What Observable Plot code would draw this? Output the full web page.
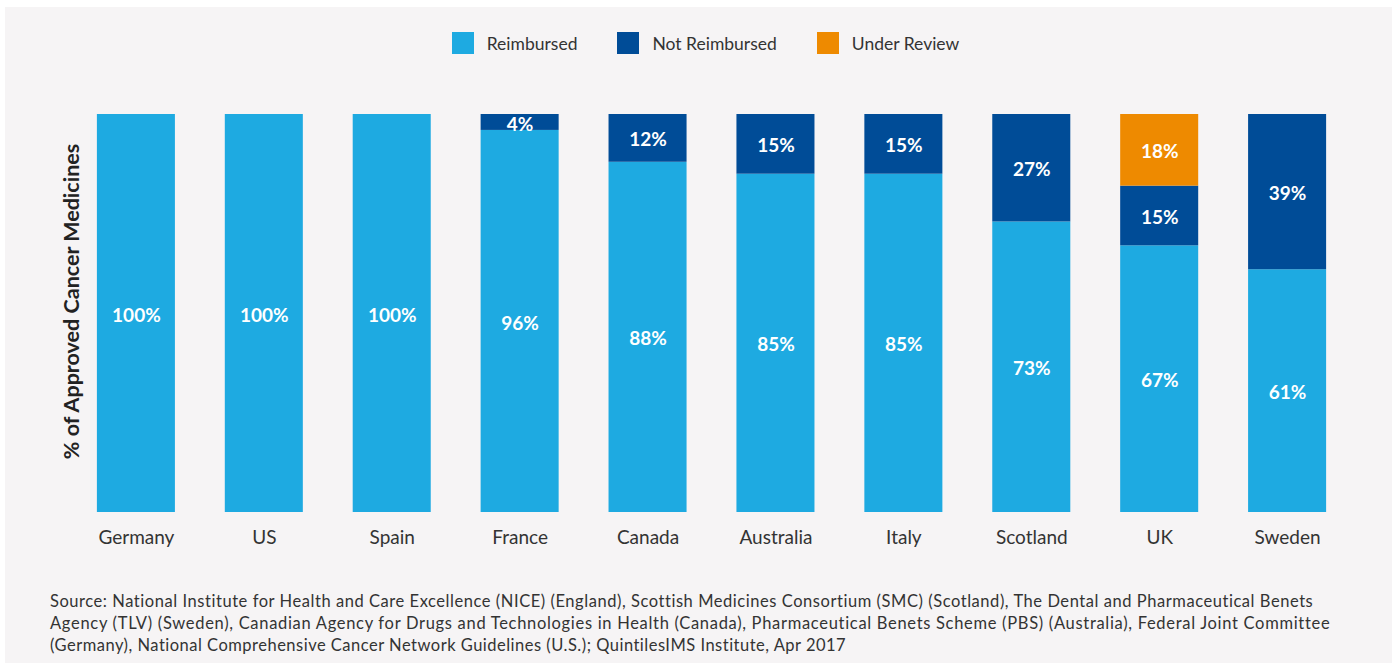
<!DOCTYPE html>
<html>
<head>
<meta charset="utf-8">
<script src="https://cdn.jsdelivr.net/npm/d3@7"></script>
<script src="https://cdn.jsdelivr.net/npm/@observablehq/plot@0.6"></script>
<style>
  html, body { margin: 0; padding: 0; background: #ffffff; }
  body { width: 1397px; height: 667px; position: relative; overflow: hidden; font-family: Lato, "Open Sans", sans-serif; }
  #panel { position: absolute; left: 5px; top: 7px; width: 1387px; height: 656px; background: #f6f4f5; }
  #legend { position: absolute; left: 7px; top: 32px; width: 1397px; display: flex; justify-content: center; align-items: center; font-size: 17.5px; color: #333; }
  .item { display: flex; align-items: center; margin: 0 20px; }
  .sw { width: 22px; height: 22px; margin-right: 13px; }
  #chart { position: absolute; left: 0; top: 80px; }
  #caption { position: absolute; left: 50px; top: 590px; font-size: 16.5px; line-height: 22px; color: #333; white-space: nowrap; }
</style>
</head>
<body>
<div id="panel"></div>
<div id="legend"></div>
<div id="chart"></div>
<div id="caption"></div>
<script>
const countries = ["Germany", "US", "Spain", "France", "Canada", "Australia", "Italy", "Scotland", "UK", "Sweden"];
const statuses = ["Reimbursed", "Not Reimbursed", "Under Review"];
const statusColors = ["#1eaae1", "#004c97", "#ee8a00"];
const reimbursed    = [100, 100, 100, 96, 88, 85, 85, 73, 67, 61];
const notReimbursed = [0, 0, 0, 4, 12, 15, 15, 27, 15, 39];
const underReview   = [0, 0, 0, 0, 0, 0, 0, 0, 18, 0];
const yLabel = "% of Approved Cancer Medicines";
const captionLines = [
  "Source: National Institute for Health and Care Excellence (NICE) (England), Scottish Medicines Consortium (SMC) (Scotland), The Dental and Pharmaceutical Benets",
  "Agency (TLV) (Sweden), Canadian Agency for Drugs and Technologies in Health (Canada), Pharmaceutical Benets Scheme (PBS) (Australia), Federal Joint Committee",
  "(Germany), National Comprehensive Cancer Network Guidelines (U.S.); QuintilesIMS Institute, Apr 2017"
];
const captionWidths = [1264, 1280, 797];

const series = [reimbursed, notReimbursed, underReview];
const data = [];
countries.forEach((c, i) => {
  statuses.forEach((s, j) => {
    const v = series[j][i];
    if (v > 0) data.push({country: c, status: s, value: v});
  });
});

// legend
const legend = document.getElementById("legend");
statuses.forEach((s, j) => {
  const it = document.createElement("div");
  it.className = "item";
  const sw = document.createElement("div");
  sw.className = "sw";
  sw.style.background = statusColors[j];
  const t = document.createElement("span");
  t.textContent = s;
  it.appendChild(sw);
  it.appendChild(t);
  legend.appendChild(it);
});

// caption
const cap = document.getElementById("caption");
captionLines.forEach((l, i) => {
  const d = document.createElement("div");
  const s = document.createElement("span");
  s.textContent = l;
  d.appendChild(s);
  cap.appendChild(d);
  const w = s.getBoundingClientRect().width;
  const ls = (captionWidths[i] - w) / l.length;
  s.style.letterSpacing = ls.toFixed(3) + "px";
});

const plot = Plot.plot({
  width: 1397,
  height: 480,
  marginTop: 34,
  marginBottom: 48,
  marginLeft: 47,
  marginRight: 21,
  style: {background: "transparent", fontFamily: "Lato, 'Open Sans', sans-serif", overflow: "visible"},
  x: {domain: countries, padding: 0.39, round: false, label: null, tickSize: 0, tickPadding: 18},
  y: {domain: [0, 100], axis: null},
  color: {domain: statuses, range: statusColors},
  marks: [
    Plot.barY(data, Plot.stackY({x: "country", y: "value", z: "status", fill: "status", order: statuses})),
    Plot.text(data, Plot.stackY({x: "country", y: "value", z: "status", order: statuses, text: d => d.value + "%", fill: "white", fontWeight: "bold", fontSize: 19, dy: 2})),
    Plot.text([yLabel], {frameAnchor: "left", rotate: -90, dx: 25, dy: -12, textAnchor: "middle", fontSize: 21.5, fontWeight: "bold", fill: "#222"})
  ]
});
plot.querySelectorAll("g[aria-label='x-axis tick label']").forEach(e => {
  e.setAttribute("font-size", "19");
  e.setAttribute("fill", "#333");
});
document.getElementById("chart").appendChild(plot);
</script>
</body>
</html>
